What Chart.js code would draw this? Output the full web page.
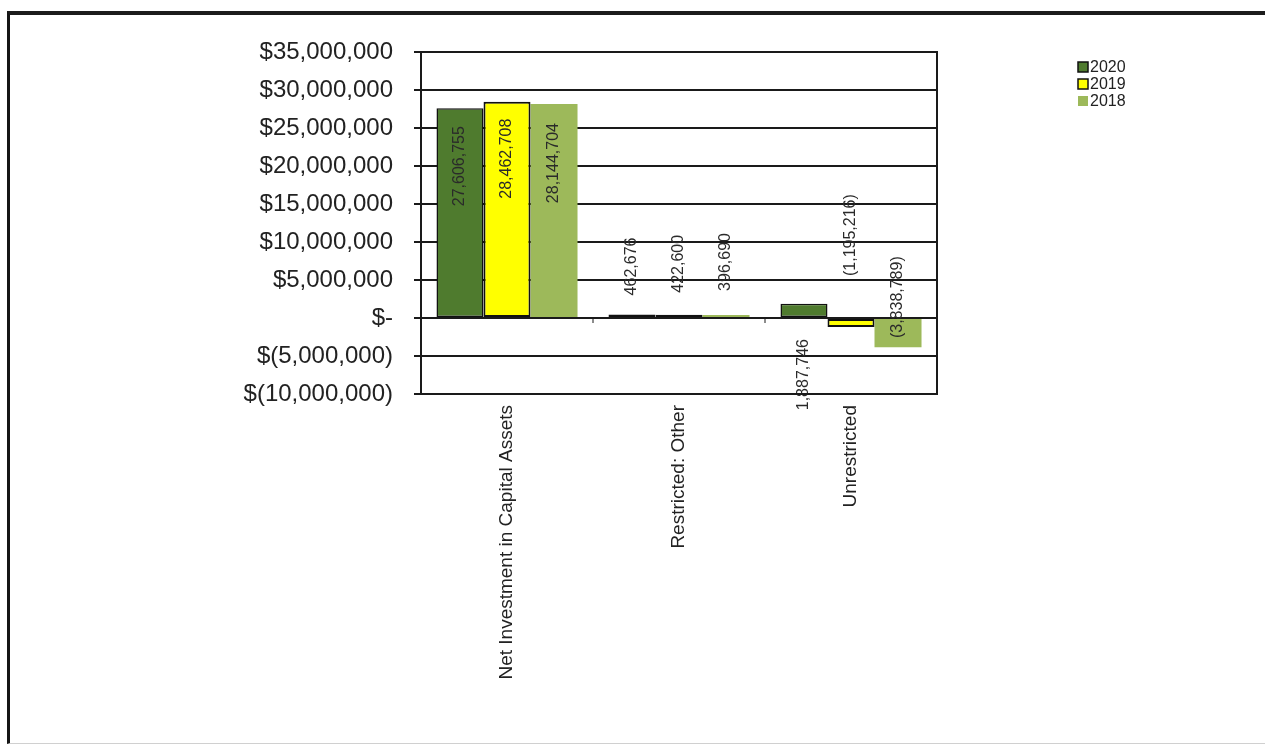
<!DOCTYPE html>
<html>
<head>
<meta charset="utf-8">
<script src="https://cdn.jsdelivr.net/npm/chart.js@4"></script>
<style>
  body { margin: 0; background: #fff; overflow: hidden; }
  .frame {
    position: absolute; left: 7px; top: 11px; width: 1300px; height: 728px;
    border-left: 3px solid #151515; border-top: 4px solid #1c1c1c; border-bottom: 1px solid #d0d0d0;
  }
  #chart { position: absolute; left: 0; top: 0; }
</style>
</head>
<body>
<div class="frame"></div>
<canvas id="chart" width="1265" height="752"></canvas>
<script>
const categories = ["Net Investment in Capital Assets", "Restricted: Other", "Unrestricted"];
const years = ["2020", "2019", "2018"];
const values2020 = [27606755, 462676, 1887746];
const values2019 = [28462708, 422600, -1195216];
const values2018 = [28144704, 396690, -3838789];
const yMin = -10000000;
const yMax = 35000000;
const yStep = 5000000;

// where each value label sits, px from the end of its bar (as in the original)
const labelShift = [
  [58, -48, 71],
  [57, -51, -92],
  [59, -53, -50]
];

const fontName = "'Liberation Sans', Arial, sans-serif";

function money(v) {
  if (v === 0) return "$-";
  const s = Math.abs(v).toLocaleString("en-US");
  return v < 0 ? "$(" + s + ")" : "$" + s;
}

function plain(v) {
  const s = Math.abs(v).toLocaleString("en-US");
  return v < 0 ? "(" + s + ")" : s;
}

const valueLabels = {
  id: "valueLabels",
  afterDatasetsDraw(chart) {
    const ctx = chart.ctx;
    ctx.save();
    ctx.font = "16px " + fontName;
    ctx.fillStyle = "#2a2a2a";
    ctx.textAlign = "center";
    ctx.textBaseline = "middle";
    chart.data.datasets.forEach((ds, di) => {
      chart.getDatasetMeta(di).data.forEach((el, i) => {
        ctx.save();
        ctx.translate(el.x, el.y + labelShift[di][i]);
        ctx.rotate(-Math.PI / 2);
        ctx.fillText(plain(ds.data[i]), 0, 0);
        ctx.restore();
      });
    });
    ctx.restore();
  }
};

const frameAndLegend = {
  id: "frameAndLegend",
  afterDraw(chart) {
    const ctx = chart.ctx;
    const a = chart.chartArea;
    ctx.save();
    ctx.strokeStyle = "#1a1a1a";
    ctx.lineWidth = 2;
    ctx.strokeRect(a.left, a.top, a.right - a.left, a.bottom - a.top);

    // small category ticks on the zero line
    const x = chart.scales.x;
    const zero = chart.scales.y.getPixelForValue(0);
    ctx.lineWidth = 1;
    for (let i = 1; i < categories.length; i++) {
      const bx = (x.getPixelForValue(i - 1) + x.getPixelForValue(i)) / 2;
      ctx.beginPath();
      ctx.moveTo(bx, zero);
      ctx.lineTo(bx, zero + 5);
      ctx.stroke();
    }

    // legend
    ctx.font = "16px " + fontName;
    ctx.textBaseline = "middle";
    ctx.textAlign = "left";
    chart.data.datasets.forEach((ds, i) => {
      const y = 67 + i * 17;
      ctx.fillStyle = ds.backgroundColor;
      ctx.fillRect(1078, y - 5, 10, 10);
      if (ds.borderWidth) {
        ctx.strokeStyle = "#111";
        ctx.lineWidth = 1.5;
        ctx.strokeRect(1078, y - 5, 10, 10);
      }
      ctx.fillStyle = "#222";
      ctx.fillText(ds.label, 1090, y + 1);
    });
    ctx.restore();
  }
};

new Chart(document.getElementById("chart"), {
  type: "bar",
  data: {
    labels: categories,
    datasets: [
      { label: years[0], data: values2020, backgroundColor: "#4f7b2e", borderColor: "#111", borderWidth: 1.5, borderSkipped: false },
      { label: years[1], data: values2019, backgroundColor: "#ffff00", borderColor: "#111", borderWidth: 2, borderSkipped: false },
      { label: years[2], data: values2018, backgroundColor: "#9db95a", borderWidth: 0 }
    ]
  },
  options: {
    responsive: false,
    animation: false,
    events: [],
    categoryPercentage: 0.82,
    barPercentage: 1.0,
    layout: { padding: { top: 52, right: 328, left: 0, bottom: 0 } },
    plugins: {
      legend: { display: false },
      tooltip: { enabled: false }
    },
    scales: {
      x: {
        grid: { display: false },
        border: { display: false },
        ticks: {
          color: "#222",
          font: { family: fontName, size: 19 },
          minRotation: 90,
          maxRotation: 90,
          padding: 3,
          autoSkip: false
        },
        afterFit(s) { s.height = 752 - 394; }
      },
      y: {
        min: yMin,
        max: yMax,
        border: { color: "#1a1a1a", width: 2 },
        grid: { color: "#1a1a1a", lineWidth: 2, tickLength: 7 },
        ticks: {
          stepSize: yStep,
          color: "#222",
          font: { family: fontName, size: 24 },
          padding: 21,
          callback: (v) => money(v)
        },
        afterFit(s) { s.width = 421; }
      }
    }
  },
  plugins: [valueLabels, frameAndLegend]
});
</script>
</body>
</html>
